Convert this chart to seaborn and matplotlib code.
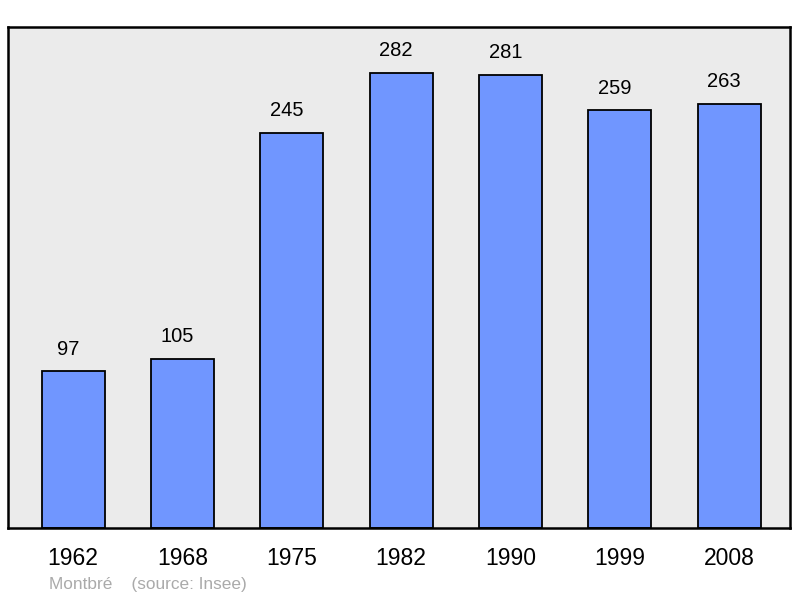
import matplotlib
matplotlib.use("Agg")
import matplotlib.pyplot as plt
import seaborn as sns
import pandas as pd

years = ["1962", "1968", "1975", "1982", "1990", "1999", "2008"]
population = [97, 105, 245, 282, 281, 259, 263]
footer = "Montbré    (source: Insee)"

sns.set_style("white")
plt.rcParams["font.family"] = ["Liberation Sans", "DejaVu Sans"]

df = pd.DataFrame({"year": years, "pop": population})

fig = plt.figure(figsize=(8, 5.98), dpi=100)
ax = fig.add_axes([0.01, 0.117, 0.9775, 0.838])
ax.set_facecolor("#ebebeb")

sns.barplot(data=df, x="year", y="pop", ax=ax, color="#7096ff", saturation=1,
            width=0.577, edgecolor="black", linewidth=1.3)

for i, v in enumerate(population):
    ax.annotate(str(v), (i, v), xytext=(-3.6, 9), textcoords="offset points",
                ha="center", va="bottom", fontsize=14.5, color="black")

ax.set_xlim(-0.595, 6.555)
ax.set_ylim(0, 310.5)
ax.set_xlabel("")
ax.set_ylabel("")
ax.set_yticks([])
ax.tick_params(axis="x", length=0, pad=14, labelsize=16.5, labelcolor="black")
for s in ax.spines.values():
    s.set_visible(True)
    s.set_color("black")
    s.set_linewidth(1.8)

fig.text(49 / 800, 1 - 584 / 598, footer, fontsize=12.4, color="#aaaaaa",
         ha="left", va="center")

fig.savefig("out.png", dpi=100)
